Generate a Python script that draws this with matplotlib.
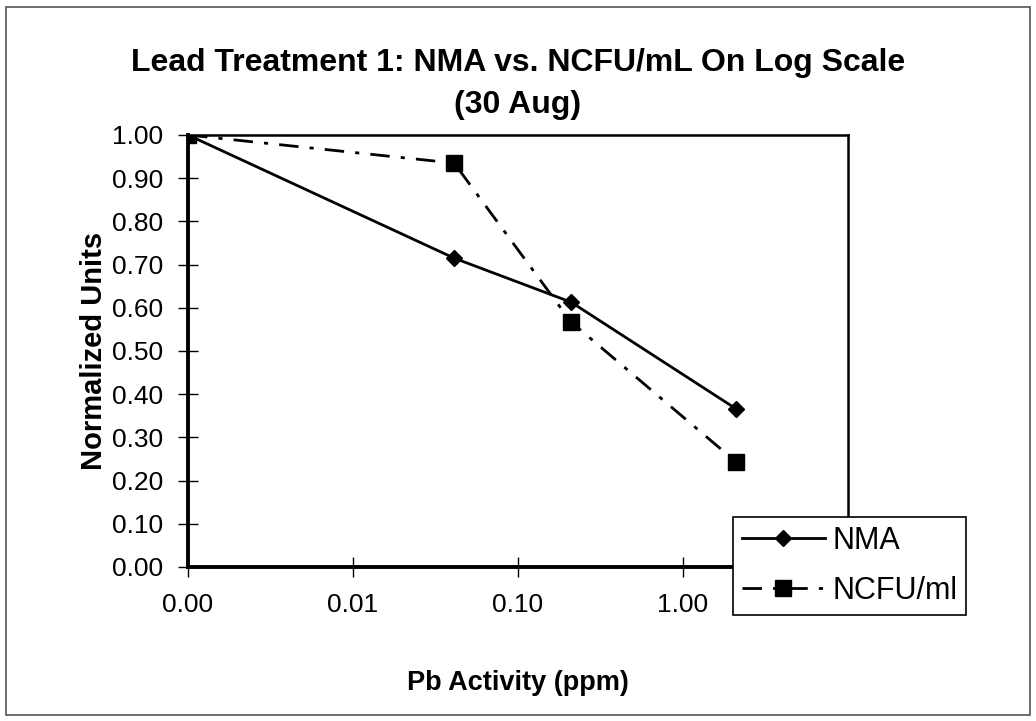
import matplotlib
matplotlib.use('Agg')
import matplotlib.pyplot as plt
from matplotlib.patches import Rectangle

plt.rcParams['font.family'] = ['Liberation Sans', 'DejaVu Sans']

# data
pb_ppm = [0.001, 0.041, 0.21, 2.1]
nma = [1.00, 0.715, 0.613, 0.366]
ncfu = [1.00, 0.935, 0.567, 0.243]
x_ticks = [0.001, 0.01, 0.1, 1.0]
x_labels = ['0.00', '0.01', '0.10', '1.00']
y_ticks = [i / 10 for i in range(11)]

fig = plt.figure(figsize=(10.36, 7.21), dpi=100, facecolor='white')
ax = fig.add_axes([188 / 1036, 1 - 567 / 721, 660 / 1036, 432 / 721])

ax.plot(pb_ppm, nma, color='black', lw=2, marker='D', ms=8,
        mfc='black', mec='black', label='NMA')
ax.plot(pb_ppm, ncfu, color='black', lw=2, dashes=(7, 4, 1.5, 4), marker='s',
        ms=11, mfc='black', mec='black', label='NCFU/ml')

ax.set_xscale('log')
ax.set_xlim(0.001, 10)
ax.set_ylim(0, 1)
ax.set_xticks(x_ticks)
ax.set_xticklabels(x_labels)
ax.xaxis.set_minor_locator(matplotlib.ticker.NullLocator())
ax.set_yticks(y_ticks)
ax.set_yticklabels([f'{v:.2f}' for v in y_ticks])
ax.tick_params(axis='both', direction='inout', length=14, width=1,
               labelsize=19, colors='black')
ax.tick_params(axis='x', pad=12)
ax.tick_params(axis='y', pad=11)
for sp in ax.spines.values():
    sp.set_color('black')
    sp.set_linewidth(1.8)
ax.spines['left'].set_linewidth(2.8)
ax.spines['bottom'].set_linewidth(2.8)

ax.set_xlabel('Pb Activity (ppm)', fontsize=19.5, fontweight='bold', labelpad=38)
ax.set_ylabel('Normalized Units', fontsize=21, fontweight='bold', labelpad=3)
fig.text(0.5, 1 - 63 / 721, 'Lead Treatment 1: NMA vs. NCFU/mL On Log Scale',
         ha='center', va='center', fontsize=23, fontweight='bold')
fig.text(0.5, 1 - 105 / 721, '(30 Aug)', ha='center', va='center',
         fontsize=23, fontweight='bold')

leg = fig.legend(loc='upper left', bbox_to_anchor=(733 / 1036, 1 - 517 / 721),
                 borderaxespad=0, fontsize=22, frameon=True, fancybox=False,
                 framealpha=1, handlelength=2.7, borderpad=0.3,
                 labelspacing=0.65, handletextpad=0.25)
leg.get_frame().set_edgecolor('black')
leg.get_frame().set_linewidth(1.2)

# outer chart border
fig.add_artist(Rectangle((6 / 1036, 6 / 721), 1024 / 1036, 708 / 721,
                         transform=fig.transFigure, fill=False,
                         edgecolor='#555555', lw=1.2))

fig.savefig('out.png', dpi=100, facecolor='white')
